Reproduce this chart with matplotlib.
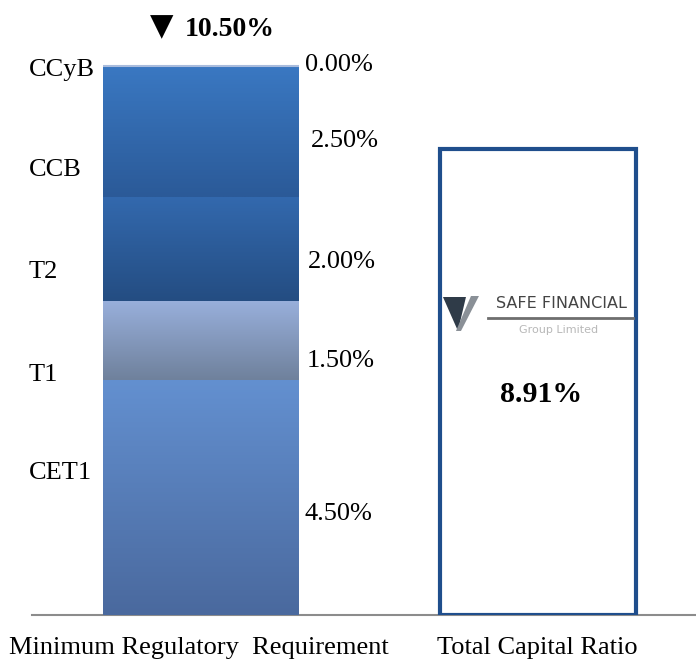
import numpy as np
import matplotlib
matplotlib.use("Agg")
from matplotlib import pyplot as plt
from matplotlib.patches import Polygon

plt.rcParams['font.family'] = ['Liberation Serif', 'DejaVu Sans']

# data
categories = ["Minimum Regulatory  Requirement", "Total Capital Ratio"]
segments = ["CET1", "T1", "T2", "CCB", "CCyB"]
segment_values = [4.50, 1.50, 2.00, 2.50, 0.00]
total_requirement = 10.50
total_capital_ratio = 8.91

# gradient colours per segment (top, bottom)
seg_colors = {
    "CET1": ("#6390D0", "#4A699E"),
    "T1": ("#98AFDB", "#6F819C"),
    "T2": ("#3369AE", "#244D82"),
    "CCB": ("#3A78C2", "#2B5A98"),
    "CCyB": ("#A9BCDD", "#A9BCDD"),
}
# label placement (data units)
name_y = [2.72, 4.59, 6.55, 8.51, 10.42]
value_y = [1.94, 4.86, 6.74, 9.07, 10.52]
value_x = [0.306, 0.315, 0.318, 0.327, 0.309]

PX = 337.0    # pixels per x unit
PY = 52.3     # pixels per percent


def hex2rgb(h):
    h = h.lstrip("#")
    return np.array([int(h[i:i + 2], 16) / 255 for i in (0, 2, 4)])


def px2data(px, py):
    return ((px - 201) / PX, (615 - py) / PY)


fig = plt.figure(figsize=(6.96, 6.60), dpi=100)
ax = fig.add_axes([32 / 696, 45 / 660, 664 / 696, 615 / 660])
ax.set_xlim(-0.5015, 1.469)
ax.set_ylim(0, 615 / PY)
ax.axis("off")

width = 0.58
x = np.arange(len(categories))

# stacked requirement bar with vertical gradients
bottom = 0.0
for seg, val in zip(segments, segment_values):
    if val > 0:
        bar = ax.bar(x[0], val, width, bottom=bottom, color="none", linewidth=0)[0]
        top_c, bot_c = seg_colors[seg]
        t = np.linspace(0, 1, 100)[:, None]
        grad = (1 - t) * hex2rgb(top_c) + t * hex2rgb(bot_c)
        im = ax.imshow(grad[:, None, :].repeat(2, axis=1), aspect="auto",
                       extent=(x[0] - width / 2, x[0] + width / 2, bottom, bottom + val),
                       interpolation="bilinear", zorder=2)
        im.set_clip_path(bar)
    bottom += val
# thin light line on top for the zero CCyB segment
ax.plot([x[0] - width / 2, x[0] + width / 2], [bottom, bottom],
        color=seg_colors["CCyB"][0], lw=1.5, zorder=3, solid_capstyle="butt")

# total capital ratio outlined bar
ax.bar(x[1], total_capital_ratio, width, facecolor="white",
       edgecolor="#1F4E8C", linewidth=3, zorder=2)

# baseline
ax.plot([-0.5015, 1.469], [0, 0], color="#8C8C8C", lw=1.5, zorder=1,
        clip_on=False)

# segment names and values
for seg, val, ny, vy, vx in zip(segments, segment_values, name_y, value_y, value_x):
    ax.text(-0.512, ny, seg, fontsize=19, ha="left", va="center", color="black")
    ax.text(vx, vy, f"{val:.2f}%", fontsize=19, ha="left", va="center", color="black")

# totals
ax.text(*px2data(162, 27), "\u25BC", family="DejaVu Sans", fontsize=22,
        ha="center", va="center")
ax.text(*px2data(185, 29), f"{total_requirement:.2f}%", fontsize=20, fontweight="bold",
        ha="left", va="center")
ax.text(x[1] + 0.008, 4.22, f"{total_capital_ratio:.2f}%", fontsize=21.5, fontweight="bold",
        ha="center", va="center")

# category labels
ax.text(x[0] - 0.006, -0.63, categories[0], fontsize=19, ha="center", va="center")
ax.text(x[1] - 0.003, -0.63, categories[1], fontsize=19, ha="center", va="center")

# logo
v_dark = [px2data(443, 297), px2data(466, 297), px2data(458, 331)]
v_arm = [px2data(471, 296), px2data(479, 296), px2data(461, 331), px2data(456, 331)]
ax.add_patch(Polygon(v_dark, closed=True, facecolor="#2F3B48", edgecolor="none", zorder=4))
ax.add_patch(Polygon(v_arm, closed=True, facecolor="#8A9097", edgecolor="none", zorder=4))
ax.text(*px2data(561, 303), "SAFE FINANCIAL", family="DejaVu Sans", fontsize=11.5,
        color="#444444", ha="center", va="center", zorder=4)
ax.plot(*zip(px2data(488, 318), px2data(633, 318)), color="#6E6E6E", lw=2, zorder=4)
ax.text(*px2data(559, 330), "Group Limited", family="DejaVu Sans", fontsize=8,
        color="#B8B8B8", ha="center", va="center", zorder=4)

fig.savefig("out.png", dpi=100)
